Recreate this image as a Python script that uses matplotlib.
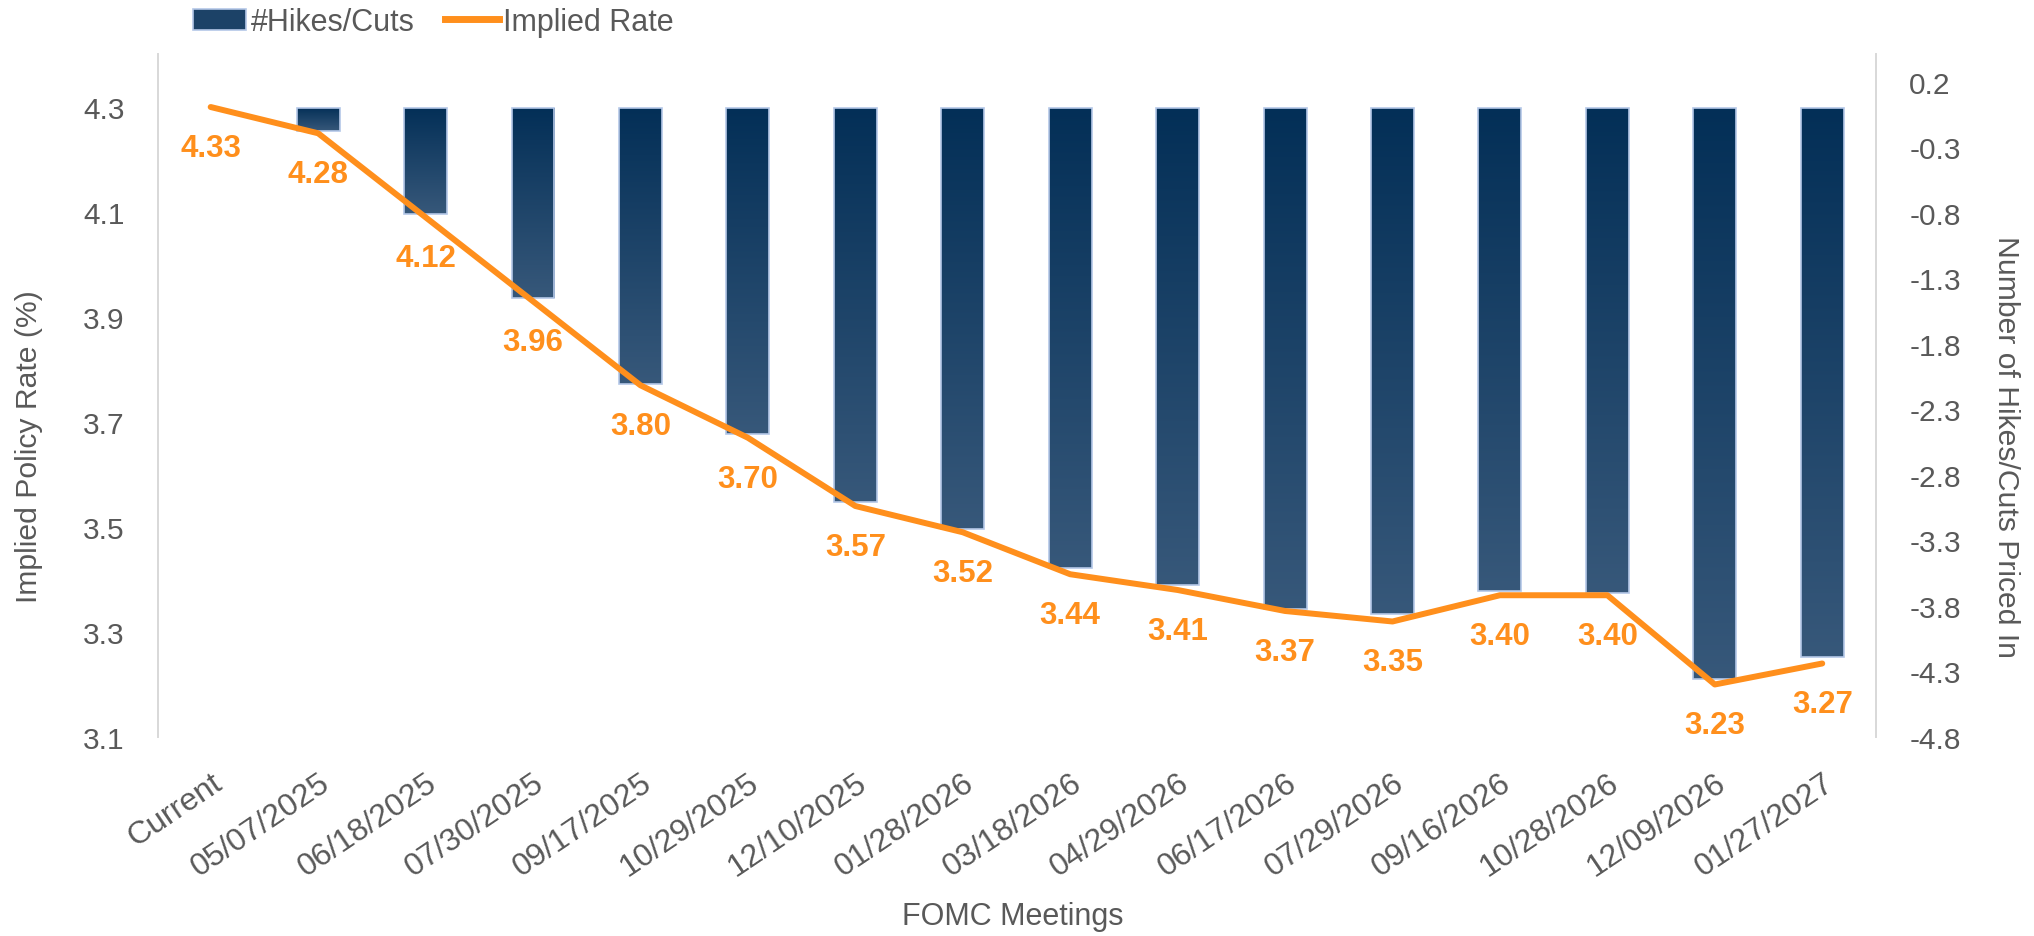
import numpy as np
import matplotlib
matplotlib.use("Agg")
import matplotlib.pyplot as plt
from matplotlib.colors import LinearSegmentedColormap
from matplotlib.patches import Patch
from matplotlib.lines import Line2D

meetings = ["Current", "05/07/2025", "06/18/2025", "07/30/2025", "09/17/2025",
            "10/29/2025", "12/10/2025", "01/28/2026", "03/18/2026", "04/29/2026",
            "06/17/2026", "07/29/2026", "09/16/2026", "10/28/2026", "12/09/2026",
            "01/27/2027"]
implied_rate = [4.33, 4.28, 4.12, 3.96, 3.80, 3.70, 3.57, 3.52, 3.44, 3.41,
                3.37, 3.35, 3.40, 3.40, 3.23, 3.27]
hikes_cuts = [0.0, -0.18, -0.81, -1.45, -2.11, -2.49, -3.01, -3.21, -3.51, -3.64,
              -3.82, -3.86, -3.69, -3.70, -4.36, -4.19]
left_ticks = [3.13, 3.33, 3.53, 3.73, 3.93, 4.13, 4.33]
right_ticks = [-4.8, -4.3, -3.8, -3.3, -2.8, -2.3, -1.8, -1.3, -0.8, -0.3, 0.2]

gray = "#595959"
orange = "#FF8F1C"
bar_top = "#032f57"
bar_bot = "#37587a"
edge = "#b4c7e7"

plt.rcParams["font.family"] = ["Liberation Sans", "DejaVu Sans"]

fig = plt.figure(figsize=(20.34, 9.37), dpi=100)
ax2 = fig.add_axes([0.0777, 0.2124, 0.8446, 0.7289])
ax = ax2.twinx()
ax.yaxis.tick_left()
ax.yaxis.set_label_position("left")
ax2.yaxis.tick_right()
ax2.yaxis.set_label_position("right")

x = np.arange(len(meetings))

# bars with a vertical gradient, one per meeting
bars = ax2.bar(x, hikes_cuts, width=0.4, color="none", edgecolor=edge,
               linewidth=1.2, zorder=3)
cmap = LinearSegmentedColormap.from_list("bars", [bar_top, bar_bot])
grad = np.linspace(0, 1, 256).reshape(-1, 1)
for rect in bars:
    h = rect.get_height()
    if h == 0:
        rect.set_edgecolor("none")
        continue
    x0, w = rect.get_x(), rect.get_width()
    im = ax2.imshow(grad, cmap=cmap, extent=[x0, x0 + w, h, 0],
                    aspect="auto", origin="upper", zorder=2)
    im.set_clip_path(rect)

ax2.set_xlim(-0.49, 15.5)
ax2.set_ylim(-4.79, 0.41)
ax2.set_yticks(right_ticks)
ax2.set_yticklabels(["%.1f" % v for v in right_ticks])

# implied rate line
ax.plot(x, implied_rate, color=orange, lw=4.3, solid_capstyle="round",
        solid_joinstyle="round", zorder=5)
for xi, v in zip(x, implied_rate):
    ax.annotate("%.2f" % v, (xi, v), xytext=(0, -29.5), textcoords="offset points",
                ha="center", va="center", color=orange, fontsize=22.5,
                fontweight="bold")
ax.set_ylim(3.131, 4.431)
ax.set_yticks(left_ticks)
ax.set_yticklabels(["%.1f" % v for v in left_ticks])
ax.set_xlim(-0.49, 15.5)

ax.set_zorder(ax2.get_zorder() + 1)
ax.patch.set_visible(False)

for a in (ax, ax2):
    for s in ("top", "bottom"):
        a.spines[s].set_visible(False)
    for s in ("left", "right"):
        a.spines[s].set_color("#d9d9d9")
        a.spines[s].set_linewidth(1.3)
    a.tick_params(length=0, colors=gray, labelsize=21.5)
ax.tick_params(axis="y", pad=24)
ax2.tick_params(axis="y", pad=24)

ax2.set_xticks(x)
ax2.set_xticklabels(meetings, rotation=34, ha="right", va="top",
                    rotation_mode="anchor", fontsize=23)
ax2.tick_params(axis="x", pad=22)
ax.tick_params(axis="x", labelbottom=False)

fig.text(0.498, 0.0213, "FOMC Meetings", ha="center", va="center",
         color=gray, fontsize=22)
fig.text(0.0143, 0.523, "Implied Policy Rate (%)", rotation=90, ha="center",
         va="center", color=gray, fontsize=21.7)
fig.text(0.9862, 0.523, "Number of Hikes/Cuts Priced In", rotation=270,
         ha="center", va="center", color=gray, fontsize=21.7)

handles = [Patch(facecolor="#1c4267", edgecolor=edge, linewidth=1.2),
           Line2D([0], [0], color=orange, lw=5)]
fig.legend(handles, ["#Hikes/Cuts", "Implied Rate"], loc="center",
           bbox_to_anchor=(0.213, 0.9755), ncol=2, frameon=False, fontsize=22,
           labelcolor=gray, handlelength=1.75, handletextpad=0.15,
           columnspacing=1.0)

fig.savefig("out.png", dpi=100)
